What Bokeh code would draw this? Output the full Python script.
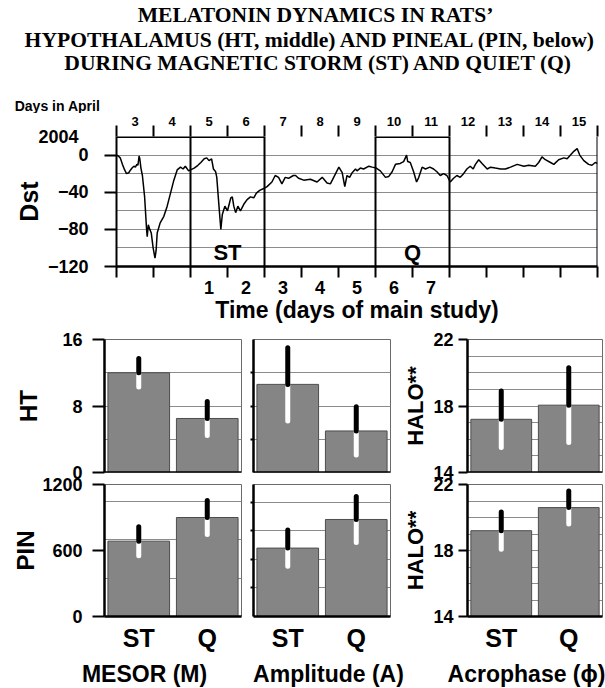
from bokeh.plotting import figure
from bokeh.models import (Range1d, FactorRange, FixedTicker, Label, Span,
                          LinearAxis, ColumnDataSource)
from bokeh.layouts import column, row
from bokeh.embed import file_html
from bokeh.resources import INLINE

SANS = "Liberation Sans"
SERIF = "Liberation Serif"
NBSP = "\u00a0"

# ---------------- data ----------------
title_lines = [
    "MELATONIN DYNAMICS IN RATS\u2019",
    "HYPOTHALAMUS (HT, middle) AND PINEAL (PIN, below)",
    "DURING MAGNETIC STORM (ST) AND QUIET (Q)",
]
group_labels = ["MESOR (M)", "Amplitude (A)", "Acrophase (\u03d5)"]

# Dst index, April 2004 (x = day of April, fractional)
dst_day = [3.00, 3.05, 3.10, 3.16, 3.22, 3.27, 3.33, 3.38, 3.42, 3.47, 3.51, 3.55,
           3.58, 3.61, 3.63, 3.66, 3.70, 3.76, 3.81, 3.83, 3.86, 3.90, 3.94, 3.99,
           4.04, 4.07, 4.10, 4.18, 4.28, 4.37, 4.46, 4.55, 4.64, 4.73, 4.80, 4.86,
           4.95, 5.00, 5.10, 5.20, 5.28, 5.37, 5.44, 5.50, 5.57, 5.62, 5.68, 5.71,
           5.77, 5.82, 5.86, 5.93, 6.00, 6.09, 6.13, 6.17, 6.22, 6.28, 6.35, 6.44,
           6.53, 6.62, 6.71, 6.78, 6.87, 6.98, 7.07, 7.20, 7.29, 7.38, 7.47, 7.56,
           7.65, 7.78, 7.84, 7.92, 8.06, 8.24, 8.42, 8.56, 8.69, 8.78, 8.87, 9.01,
           9.10, 9.17, 9.23, 9.30, 9.37, 9.46, 9.50, 9.59, 9.68, 9.82, 9.91, 10.02,
           10.13, 10.27, 10.36, 10.45, 10.54, 10.67, 10.76, 10.84, 10.87, 10.94, 11.03, 11.11,
           11.17, 11.26, 11.35, 11.47, 11.57, 11.66, 11.75, 11.84, 11.93, 12.02, 12.11, 12.20,
           12.29, 12.38, 12.47, 12.56, 12.64, 12.70, 12.79, 12.88, 13.02, 13.11, 13.24, 13.38,
           13.51, 13.65, 13.83, 14.01, 14.14, 14.32, 14.41, 14.50, 14.59, 14.73, 14.82, 14.95,
           15.09, 15.18, 15.27, 15.36, 15.45, 15.52, 15.63, 15.76, 15.85, 15.94, 16.00]
dst_val = [0, -1, -3, -10, -16, -20, -19, -16, -14, -12, -13, -10,
           -11, -1, -4, -14, -22, -45, -78, -88, -75, -80, -84, -100,
           -111, -103, -84, -73, -66, -55, -41, -27, -16, -13, -15, -12,
           -17, -16, -14, -11, -8, -4, -3, -6, -4, -15, -18, -24,
           -55, -80, -64, -55, -60, -46, -45, -55, -62, -55, -60, -53,
           -48, -45, -46, -41, -38, -36, -34, -29, -22, -24, -31, -24,
           -25, -22, -22, -25, -27, -26, -29, -24, -30, -31, -24, -13,
           -19, -34, -22, -24, -19, -15, -17, -14, -15, -12, -13, -14,
           -17, -24, -23, -18, -10, -9, -7, 0, -7, -8, -18, -29,
           -24, -13, -15, -13, -15, -18, -22, -20, -22, -29, -25, -22,
           -24, -20, -15, -12, -15, -10, -5, -9, -15, -13, -14, -15,
           -15, -13, -10, -12, -11, -12, -8, -2, -5, -8, -10, -5,
           -3, -4, 0, 4, 7, 0, -6, -10, -11, -8, -9]

year = 2004
april_days = [3, 4, 5, 6, 7, 8, 9, 10, 11, 12, 13, 14, 15]
study_days = [1, 2, 3, 4, 5, 6, 7]
study_first_april_day = 5
st_period = [5, 7]
q_period = [10, 12]
dst_ticks = [-120, -80, -40, 0]
dst_grid = [-100, -80, -60, -40, -20, 0, 20]

categories = ["ST", "Q"]
ht_mesor = [12.0, 6.5]
ht_mesor_err = [1.7, 2.05]
ht_amp = [10.6, 5.0]
ht_amp_err = [4.4, 2.9]
ht_acro = [17.2, 18.05]
ht_acro_err = [1.7, 2.25]
pin_mesor = [685, 900]
pin_mesor_err = [132, 155]
pin_amp = [622, 882]
pin_amp_err = [165, 210]
pin_acro = [19.2, 20.6]
pin_acro_err = [1.13, 1.0]

GRID = "#8c8c8c"
BAR = "#858585"
W = 605


def style_axis(ax, label_size, axis_size="22px"):
    ax.major_label_text_font = SANS
    ax.major_label_text_font_style = "bold"
    ax.major_label_text_font_size = label_size
    ax.major_label_text_color = "black"
    ax.axis_label_text_font = SANS
    ax.axis_label_text_font_style = "bold"
    ax.axis_label_text_font_size = axis_size
    ax.axis_label_text_color = "black"
    ax.axis_line_color = "black"
    ax.major_tick_line_color = "black"
    ax.minor_tick_line_color = "black"


def text_strip(height):
    """A plain strip whose frame fills it, used for free-standing texts."""
    f = figure(width=W, height=height, x_range=Range1d(0, W), y_range=Range1d(height, 0),
               output_backend="svg", toolbar_location=None, x_axis_location=None,
               y_axis_location=None, min_border=0, min_border_left=0, min_border_right=0,
               min_border_top=0, min_border_bottom=0)
    f.outline_line_color = None
    f.grid.visible = False
    return f


def add_text(f, x, y, text, font, size, style="bold"):
    f.add_layout(Label(x=x, y=y, text=text, text_font=font, text_font_style=style,
                       text_font_size=size, text_align="center", text_baseline="middle",
                       text_color="black"))


# ---------------- title strip ----------------
T_H = 113
t = text_strip(T_H)
for line, xx, yy in zip(title_lines, [315, 310, 318], [14, 39, 62]):
    add_text(t, xx, yy, line, SERIF, "21.6px")
add_text(t, 57, 105, "Days in April", SANS, "14px")

# ---------------- Dst panel ----------------
p = figure(width=W, height=325 - T_H, x_range=Range1d(3, 16), y_range=Range1d(-120, 20),
           output_backend="svg", toolbar_location=None,
           min_border_left=116, min_border_right=8, min_border_top=133 - T_H,
           min_border_bottom=58)
p.outline_line_color = None
p.xgrid.visible = False
p.ygrid.ticker = FixedTicker(ticks=dst_grid)
p.ygrid.grid_line_color = GRID
p.ygrid.grid_line_width = 1

bounds = april_days + [april_days[-1] + 1]

xa = p.xaxis[0]
study_pos = [study_first_april_day + s - 0.5 for s in study_days]
xa.ticker = FixedTicker(ticks=study_pos, minor_ticks=bounds)
xa.major_label_overrides = {pos: str(s) for pos, s in zip(study_pos, study_days)}
style_axis(xa, "18px", "23px")
xa.major_tick_out = 0
xa.major_tick_in = 0
xa.minor_tick_out = 11
xa.minor_tick_in = 0
xa.minor_tick_line_width = 2
xa.axis_line_width = 2.5
xa.major_label_standoff = 3
xa.axis_label = "Time (days of main study)"
xa.axis_label_standoff = 0

top_pos = [d + 0.5 for d in april_days]
ta = LinearAxis(ticker=FixedTicker(ticks=top_pos, minor_ticks=bounds),
                major_label_overrides={pos: str(d) for pos, d in zip(top_pos, april_days)})
style_axis(ta, "13px")
ta.major_tick_out = 0
ta.major_tick_in = 0
ta.minor_tick_out = 11
ta.minor_tick_in = 0
ta.minor_tick_line_width = 2
ta.axis_line_color = None
ta.major_label_standoff = 0
p.add_layout(ta, "above")

# left axis: tick marks drawn as minor ticks, the year sits on the top edge
ya = p.yaxis[0]
ya.ticker = FixedTicker(ticks=dst_ticks + [dst_grid[-1]], minor_ticks=dst_ticks)
ya.major_label_overrides = {dst_grid[-1]: str(year) + NBSP * 2}
style_axis(ya, "18px", "25px")
ya.major_tick_out = 0
ya.major_tick_in = 0
ya.minor_tick_out = 12
ya.minor_tick_in = 0
ya.minor_tick_line_width = 2
ya.axis_line_width = 2
ya.major_label_standoff = 16
ya.axis_label = "Dst"
ya.axis_label_standoff = -8

# period boxes
for d in st_period + q_period + [bounds[-1]]:
    p.add_layout(Span(location=d, dimension="height", line_color="black", line_width=2))
p.segment(x0=[april_days[0], q_period[0]], y0=[20, 20], x1=[st_period[1], q_period[1]],
          y1=[20, 20], line_color="black", line_width=3)

p.line(dst_day, dst_val, line_color="black", line_width=1.5)

for txt, per in (("ST", st_period), ("Q", q_period)):
    p.add_layout(Label(x=(per[0] + per[1]) / 2, y=-105, text=txt, text_font=SANS,
                       text_font_style="bold", text_font_size="22px", text_align="center",
                       text_baseline="middle", text_color="black"))


# ---------------- bar panels ----------------
def bar_panel(vals, errs, lo, hi, ticks, grid, w, h, mbl, mbr, mbt, mbb,
              ylabel=None, ylabel_size="24px", tick_labels=True, tick_out=12,
              label_standoff=10, ylabel_standoff=0, show_x=False):
    f = figure(width=w, height=h, x_range=FactorRange(factors=categories),
               y_range=Range1d(lo, hi), output_backend="svg", toolbar_location=None,
               min_border_left=mbl, min_border_right=mbr, min_border_top=mbt,
               min_border_bottom=mbb)
    f.outline_line_color = "#6a6a6a"
    f.outline_line_width = 1
    f.xgrid.visible = False
    f.ygrid.ticker = FixedTicker(ticks=grid)
    f.ygrid.grid_line_color = GRID
    f.ygrid.grid_line_width = 1
    src = ColumnDataSource(dict(cat=categories, val=vals,
                                up=[v + e for v, e in zip(vals, errs)],
                                dn=[v - e for v, e in zip(vals, errs)]))
    f.vbar(x="cat", top="val", bottom=lo, width=0.9, fill_color=BAR,
           line_color="#4d4d4d", line_width=1, source=src)
    f.segment(x0="cat", y0="val", x1="cat", y1="dn", line_color="white", line_width=5,
              line_cap="round", source=src)
    f.segment(x0="cat", y0="val", x1="cat", y1="up", line_color="black", line_width=5,
              line_cap="round", source=src)
    ya = f.yaxis[0]
    ya.ticker = FixedTicker(ticks=ticks)
    style_axis(ya, "18px", ylabel_size)
    ya.axis_line_width = 2.5
    ya.major_tick_out = tick_out
    ya.major_tick_in = 0
    ya.major_tick_line_width = 2
    if tick_labels:
        ya.major_label_standoff = label_standoff
    else:
        ya.major_label_overrides = {t: "" for t in ticks}
        ya.major_label_standoff = 0
    if ylabel:
        ya.axis_label = ylabel
        ya.axis_label_standoff = ylabel_standoff
    if not show_x:
        f.xaxis.visible = False
        f.add_layout(Span(location=lo, dimension="width", line_color="black", line_width=2.5))
    else:
        xa = f.xaxis[0]
        style_axis(xa, "25px")
        xa.axis_line_width = 2.5
        xa.major_tick_out = 0
        xa.major_tick_in = 0
        xa.major_label_standoff = 7
        # lower row overlaps the upper one a little: keep its margins see-through
        f.border_fill_color = None
    return f


OVER = 13                      # rows overlap so that edge tick labels are not cut
H1 = 14 + 133 + OVER
H2 = 12 + 132 + 38
a1 = bar_panel(ht_mesor, ht_mesor_err, 0, 16, [0, 8, 16], [4, 8, 12], 247, H1, 104, 6, 14, OVER,
               ylabel="HT", ylabel_standoff=17)
b1 = bar_panel(ht_amp, ht_amp_err, 0, 16, [4, 8, 12], [4, 8, 12], 153, H1, 6, 10, 14, OVER,
               tick_labels=False, tick_out=3)
c1 = bar_panel(ht_acro, ht_acro_err, 14, 22, [14, 18, 22], [15, 16, 17, 18, 19, 20, 21],
               205, H1, 66, 3, 14, OVER, ylabel="HALO**", ylabel_size="22px", tick_out=9,
               label_standoff=5, ylabel_standoff=2)
a2 = bar_panel(pin_mesor, pin_mesor_err, 0, 1200, [0, 600, 1200], [350, 700, 1050], 247, H2,
               104, 6, 12, 38, ylabel="PIN", ylabel_standoff=0, show_x=True)
b2 = bar_panel(pin_amp, pin_amp_err, 0, 1200, [260, 520, 780, 1040], [260, 520, 780, 1040],
               153, H2, 6, 10, 12, 38, tick_labels=False, tick_out=3, show_x=True)
c2 = bar_panel(pin_acro, pin_acro_err, 14, 22, [14, 18, 22], [15, 16, 17, 18, 19, 20, 21],
               205, H2, 66, 3, 12, 38, ylabel="HALO**", ylabel_size="22px", tick_out=9,
               label_standoff=5, ylabel_standoff=2, show_x=True)

# ---------------- group label strip ----------------
G_H = 688 - 325 - H1 - H2 + OVER
g = text_strip(G_H)
for lab, xx in zip(group_labels, [144, 328, 526]):
    add_text(g, xx, 19, lab, SANS, "23px")

row2 = row(a2, b2, c2)
row2.margin = (-OVER, 0, 0, 0)
layout = column(row(t), p, row(a1, b1, c1), row2, row(g))
open("out.html", "w").write(file_html(layout, INLINE))
